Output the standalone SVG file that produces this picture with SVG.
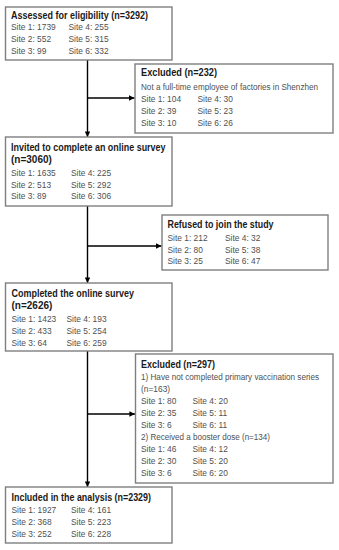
<svg xmlns="http://www.w3.org/2000/svg" width="339" height="550" viewBox="0 0 339 550">
<defs>
<marker id="ah" viewBox="0 0 10 10" refX="10" refY="5" markerWidth="4" markerHeight="4" orient="auto" markerUnits="strokeWidth">
<path d="M0,0 L10,5 L0,10 z" fill="#000"/>
</marker>
<style>
.box{fill:#fff;stroke:#7f7f7f;stroke-width:1.4}
.t{font-family:"Liberation Sans",Arial,sans-serif;font-weight:bold;font-size:10px;fill:#1a1a1a}
.s{font-family:"Liberation Sans",Arial,sans-serif;font-size:8.4px;fill:#505050}
.c{stroke:#000;stroke-width:1.4;fill:none}
.a{stroke:#000;stroke-width:1.4;fill:none;marker-end:url(#ah)}
</style>
</defs>
<rect width="339" height="550" fill="#fff"/>
<g id="connectors">
<line class="a" x1="87.5" y1="60" x2="87.5" y2="137"/>
<line class="a" x1="87.5" y1="98" x2="134.5" y2="98"/>
<line class="a" x1="87.5" y1="206" x2="87.5" y2="283"/>
<line class="a" x1="87.5" y1="246" x2="161.5" y2="246"/>
<line class="a" x1="87.5" y1="351" x2="87.5" y2="487"/>
<line class="a" x1="87.5" y1="414" x2="135" y2="414"/>
</g>
<g id="n1">
<rect class="box" x="5.5" y="7" width="166.5" height="53"/>
<text class="t" x="11" y="18.5" textLength="137" lengthAdjust="spacingAndGlyphs">Assessed for eligibility (n=3292)</text>
<text class="s" x="11" y="30">Site 1: 1739</text><text class="s" x="68.5" y="30">Site 4: 255</text>
<text class="s" x="11" y="42">Site 2: 552</text><text class="s" x="68.5" y="42">Site 5: 315</text>
<text class="s" x="11" y="53.5">Site 3: 99</text><text class="s" x="68.5" y="53.5">Site 6: 332</text>
</g>
<g id="n2">
<rect class="box" x="135" y="64" width="198" height="69"/>
<text class="t" x="141" y="75.5" textLength="76" lengthAdjust="spacingAndGlyphs">Excluded (n=232)</text>
<text class="s" x="141" y="89.5" textLength="177" lengthAdjust="spacingAndGlyphs">Not a full-time employee of factories in Shenzhen</text>
<text class="s" x="141" y="101.5">Site 1: 104</text><text class="s" x="197.5" y="101.5">Site 4: 30</text>
<text class="s" x="141" y="113.5">Site 2: 39</text><text class="s" x="197.5" y="113.5">Site 5: 23</text>
<text class="s" x="141" y="125.5">Site 3: 10</text><text class="s" x="197.5" y="125.5">Site 6: 26</text>
</g>
<g id="n3">
<rect class="box" x="5.5" y="137" width="166.5" height="69"/>
<text class="t" x="11" y="150.5" textLength="154.5" lengthAdjust="spacingAndGlyphs">Invited to complete an online survey</text>
<text class="t" x="11" y="162.5">(n=3060)</text>
<text class="s" x="11" y="175.5">Site 1: 1635</text><text class="s" x="71" y="175.5">Site 4: 225</text>
<text class="s" x="11" y="187.5">Site 2: 513</text><text class="s" x="71" y="187.5">Site 5: 292</text>
<text class="s" x="11" y="199">Site 3: 89</text><text class="s" x="71" y="199">Site 6: 306</text>
</g>
<g id="n4">
<rect class="box" x="162" y="215" width="166" height="55"/>
<text class="t" x="167.5" y="228" textLength="106" lengthAdjust="spacingAndGlyphs">Refused to join the study</text>
<text class="s" x="167.5" y="241">Site 1: 212</text><text class="s" x="225" y="241">Site 4: 32</text>
<text class="s" x="167.5" y="252.7">Site 2: 80</text><text class="s" x="225" y="252.7">Site 5: 38</text>
<text class="s" x="167.5" y="264.3">Site 3: 25</text><text class="s" x="225" y="264.3">Site 6: 47</text>
</g>
<g id="n5">
<rect class="box" x="5.5" y="283" width="166.5" height="68"/>
<text class="t" x="11.5" y="296.5" textLength="122.5" lengthAdjust="spacingAndGlyphs">Completed the online survey</text>
<text class="t" x="11.5" y="308.5">(n=2626)</text>
<text class="s" x="11.5" y="322">Site 1: 1423</text><text class="s" x="66.5" y="322">Site 4: 193</text>
<text class="s" x="11.5" y="334">Site 2: 433</text><text class="s" x="66.5" y="334">Site 5: 254</text>
<text class="s" x="11.5" y="345.5">Site 3: 64</text><text class="s" x="66.5" y="345.5">Site 6: 259</text>
</g>
<g id="n6">
<rect class="box" x="135.5" y="354" width="197.5" height="129"/>
<text class="t" x="141" y="367.5" textLength="74" lengthAdjust="spacingAndGlyphs">Excluded (n=297)</text>
<text class="s" x="141" y="379.5" textLength="178" lengthAdjust="spacingAndGlyphs">1) Have not completed primary vaccination series</text>
<text class="s" x="141" y="391.5">(n=163)</text>
<text class="s" x="141" y="404">Site 1: 80</text><text class="s" x="192.5" y="404">Site 4: 20</text>
<text class="s" x="141" y="416">Site 2: 35</text><text class="s" x="192.5" y="416">Site 5: 11</text>
<text class="s" x="141" y="427.5">Site 3: 6</text><text class="s" x="192.5" y="427.5">Site 6: 11</text>
<text class="s" x="141" y="439.5" textLength="129" lengthAdjust="spacingAndGlyphs">2) Received a booster dose (n=134)</text>
<text class="s" x="141" y="451.5">Site 1: 46</text><text class="s" x="192.5" y="451.5">Site 4: 12</text>
<text class="s" x="141" y="463.5">Site 2: 30</text><text class="s" x="192.5" y="463.5">Site 5: 20</text>
<text class="s" x="141" y="475.5">Site 3: 6</text><text class="s" x="192.5" y="475.5">Site 6: 20</text>
</g>
<g id="n7">
<rect class="box" x="5.5" y="487" width="166.5" height="56"/>
<text class="t" x="11.5" y="500.5" textLength="139.5" lengthAdjust="spacingAndGlyphs">Included in the analysis (n=2329)</text>
<text class="s" x="11.5" y="513">Site 1: 1927</text><text class="s" x="71" y="513">Site 4: 161</text>
<text class="s" x="11.5" y="525">Site 2: 368</text><text class="s" x="71" y="525">Site 5: 223</text>
<text class="s" x="11.5" y="536.5">Site 3: 252</text><text class="s" x="71" y="536.5">Site 6: 228</text>
</g>
</svg>
